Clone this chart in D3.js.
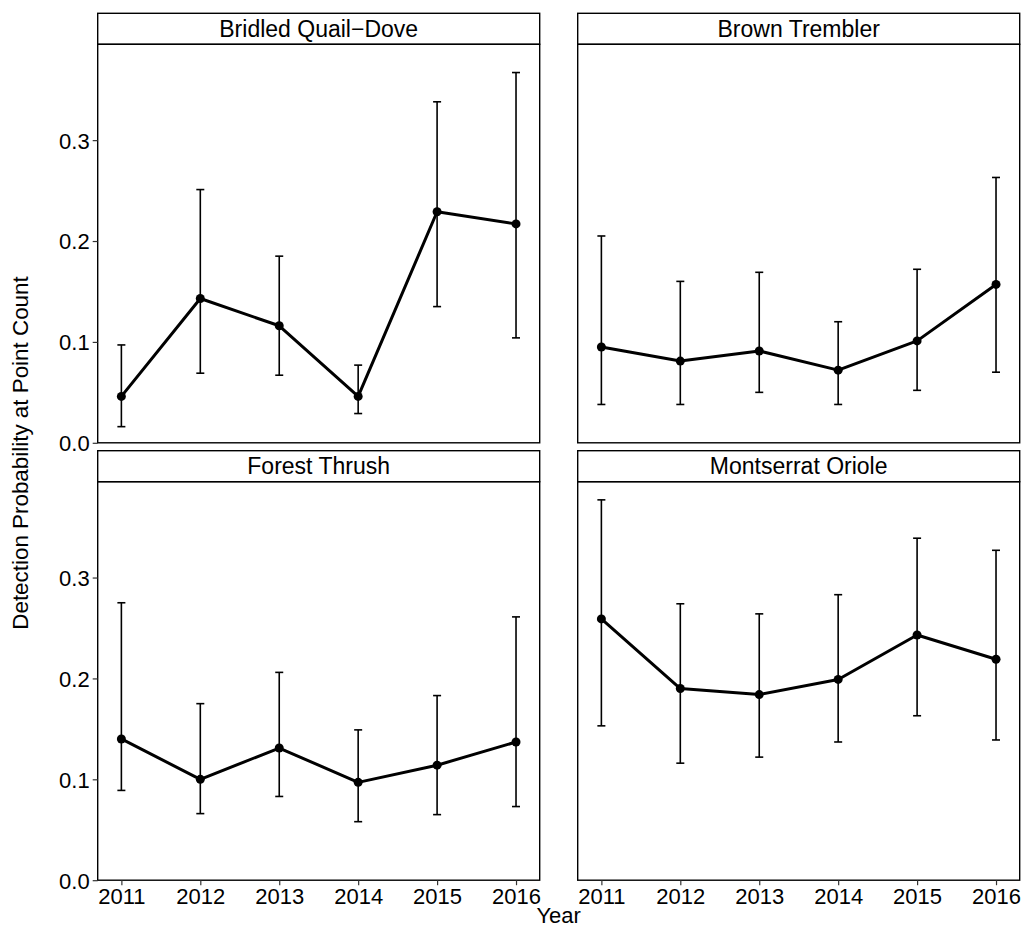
<!DOCTYPE html>
<html>
<head>
<meta charset="utf-8">
<script src="https://cdn.jsdelivr.net/npm/d3@7/dist/d3.min.js"></script>
<style>
  body { margin: 0; background: #fff; }
  text { font-family: "Liberation Sans", Arial, sans-serif; fill: #000; }
</style>
</head>
<body>
<svg id="chart" width="1023" height="928"></svg>
<script>
// data
const years = [2011, 2012, 2013, 2014, 2015, 2016];
const species = ['Bridled Quail\u2212Dove', 'Brown Trembler', 'Forest Thrush', 'Montserrat Oriole'];

const estimate = [
  [0.046, 0.143, 0.116, 0.046, 0.229, 0.217],
  [0.095, 0.081, 0.091, 0.072, 0.101, 0.157],
  [0.140, 0.100, 0.131, 0.097, 0.114, 0.137],
  [0.259, 0.190, 0.184, 0.199, 0.243, 0.219]
];
const lower = [
  [0.016, 0.069, 0.067, 0.029, 0.135, 0.104],
  [0.038, 0.038, 0.050, 0.038, 0.052, 0.070],
  [0.089, 0.066, 0.083, 0.058, 0.065, 0.073],
  [0.153, 0.116, 0.122, 0.137, 0.163, 0.139]
];
const upper = [
  [0.097, 0.251, 0.185, 0.077, 0.338, 0.367],
  [0.205, 0.160, 0.169, 0.120, 0.172, 0.263],
  [0.275, 0.175, 0.206, 0.149, 0.183, 0.261],
  [0.377, 0.274, 0.264, 0.283, 0.339, 0.327]
];
const yTicks = [0, 0.1, 0.2, 0.3];

const svg = d3.select('#chart');
const fontSize = 22;

// facet layout
const colX = [97.7, 577.7];
const panelW = 442;
const stripTop = [13.3, 450.7];
const stripH = 31;
const plotH = 398.5;

species.forEach((name, i) => {
  const col = i % 2, row = Math.floor(i / 2);
  const x0 = colX[col];
  const top = stripTop[row] + stripH;
  const bottom = top + plotH;

  const x = d3.scaleLinear().domain([2010.7, 2016.3]).range([x0, x0 + panelW]);
  const y = d3.scaleLinear().domain([0, 0.395]).range([bottom, top]);

  const g = svg.append('g');

  // strip
  g.append('rect')
    .attr('x', x0).attr('y', stripTop[row])
    .attr('width', panelW).attr('height', stripH)
    .attr('fill', '#fff').attr('stroke', '#000').attr('stroke-width', 1.4);
  g.append('text')
    .attr('x', x0 + panelW / 2).attr('y', stripTop[row] + stripH / 2 + 8)
    .attr('text-anchor', 'middle')
    .style('font-size', '23px')
    .text(name);

  const pts = years.map((yr, j) => ({year: yr, est: estimate[i][j], lo: lower[i][j], hi: upper[i][j]}));

  // line
  g.append('path')
    .datum(pts)
    .attr('fill', 'none')
    .attr('stroke', '#000')
    .attr('stroke-width', 3)
    .attr('stroke-linejoin', 'round')
    .attr('d', d3.line().x(d => x(d.year)).y(d => y(d.est)));

  // error bars
  const eb = g.selectAll('.eb').data(pts).enter().append('g')
    .attr('stroke', '#000').attr('stroke-width', 1.6);
  eb.append('line')
    .attr('x1', d => x(d.year)).attr('x2', d => x(d.year))
    .attr('y1', d => y(d.lo)).attr('y2', d => y(d.hi));
  eb.append('line')
    .attr('x1', d => x(d.year) - 4).attr('x2', d => x(d.year) + 4)
    .attr('y1', d => y(d.lo)).attr('y2', d => y(d.lo));
  eb.append('line')
    .attr('x1', d => x(d.year) - 4).attr('x2', d => x(d.year) + 4)
    .attr('y1', d => y(d.hi)).attr('y2', d => y(d.hi));

  // points
  g.selectAll('circle').data(pts).enter().append('circle')
    .attr('cx', d => x(d.year)).attr('cy', d => y(d.est))
    .attr('r', 4.5).attr('fill', '#000');

  // panel border
  g.append('rect')
    .attr('x', x0).attr('y', top)
    .attr('width', panelW).attr('height', plotH)
    .attr('fill', 'none').attr('stroke', '#000').attr('stroke-width', 1.4);

  // y axis on left column
  if (col === 0) {
    const ya = g.append('g')
      .attr('transform', 'translate(' + x0 + ',0)')
      .call(d3.axisLeft(y).tickValues(yTicks).tickFormat(d3.format('.1f')).tickSize(5).tickPadding(3));
    ya.select('.domain').remove();
    ya.selectAll('.tick line').attr('stroke', '#333').attr('stroke-width', 1.2);
    ya.selectAll('text').style('font-size', fontSize + 'px').attr('fill', '#000').attr('dy', '0.36em');
  }
  // x axis on bottom row
  if (row === 1) {
    const xa = g.append('g')
      .attr('transform', 'translate(0,' + bottom + ')')
      .call(d3.axisBottom(x).tickValues(years).tickFormat(d3.format('d')).tickSize(5).tickPadding(3));
    xa.select('.domain').remove();
    xa.selectAll('.tick line').attr('stroke', '#333').attr('stroke-width', 1.2);
    xa.selectAll('text').style('font-size', fontSize + 'px').attr('fill', '#000');
  }
});

// axis titles
svg.append('text')
  .attr('x', (colX[0] + colX[1] + panelW) / 2).attr('y', 923)
  .attr('text-anchor', 'middle')
  .style('font-size', fontSize + 'px')
  .text('Year');

svg.append('text')
  .attr('transform', 'translate(28,453) rotate(-90)')
  .attr('text-anchor', 'middle')
  .style('font-size', '22.4px')
  .text('Detection Probability at Point Count');
</script>
</body>
</html>
